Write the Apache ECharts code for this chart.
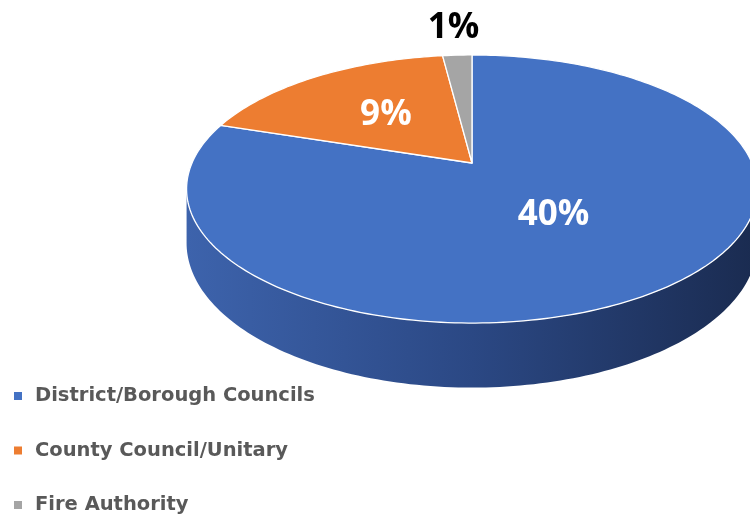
<!DOCTYPE html>
<html>
<head>
<meta charset="utf-8">
<script src="https://cdn.jsdelivr.net/npm/echarts@6/dist/echarts.min.js"></script>
<style>
  html, body { margin: 0; padding: 0; background: #fff; }
  #main { width: 750px; height: 517px; }
</style>
</head>
<body>
<div id="main"></div>
<script>
const categories = ['District/Borough Councils', 'County Council/Unitary', 'Fire Authority'];
const shares = [40, 9, 1];
const labels = ['40%', '9%', '1%'];
const colors = ['#4472C4', '#ED7D31', '#A5A5A5'];

// 3d look: tilted disk seen in perspective
const CX = 472, CY = 163, R = 280, PERSP = 0.194, TILT = 129, DEPTH = 52;
const sideStops = {
    '#4472C4': ['#3d63ac', '#2b4884', '#1a2b50'],
    '#ED7D31': ['#d06c28', '#a8561f', '#7a3d14'],
    '#A5A5A5': ['#919191', '#737373', '#525252']
};

const total = shares.reduce((a, b) => a + b, 0);

function proj(t, r, h) {
    const u = Math.sin(t) * r, v = -Math.cos(t) * r;
    const s = 1 / (1 - PERSP * v);
    return [CX + u * R * s, CY + (TILT * v + DEPTH * h) * s];
}

function startAngle(i) {
    let acc = 0;
    for (let k = 0; k < i; k++) acc += shares[k];
    return acc / total * 2 * Math.PI;
}

function arc(t0, t1, h) {
    const pts = [];
    const n = Math.max(2, Math.ceil((t1 - t0) / 0.02));
    for (let k = 0; k <= n; k++) pts.push(proj(t0 + (t1 - t0) * k / n, 1, h));
    return pts;
}

function renderSlice(params, api) {
    const i = params.seriesIndex;
    const val = api.value(0);
    const color = colors[i];
    const t0 = startAngle(i), t1 = t0 + val / total * 2 * Math.PI;
    const children = [];

    // outer wall, only the part facing us
    const sideA = Math.acos(-PERSP), sideB = 2 * Math.PI - sideA;
    const a = Math.max(t0, sideA), b = Math.min(t1, sideB);
    if (b > a) {
        const top = arc(a, b, 0), bottom = arc(a, b, 1).reverse();
        const st = sideStops[color];
        children.push({
            type: 'polygon',
            shape: { points: top.concat(bottom) },
            style: {
                fill: new echarts.graphic.LinearGradient(0, 0, 1, 0, [
                    { offset: 0, color: st[0] },
                    { offset: 0.5, color: st[1] },
                    { offset: 1, color: st[2] }
                ])
            }
        });
    }

    // top face
    children.push({
        type: 'polygon',
        shape: { points: [proj(0, 0, 0)].concat(arc(t0, t1, 0)) },
        style: { fill: color, stroke: '#ffffff', lineWidth: 1.3, lineJoin: 'round' }
    });

    // data label
    const mid = (t0 + t1) / 2;
    const frac = val / total;
    const outside = frac < 0.05;
    const r = outside ? 1.32 : (frac > 0.4 ? 0.46 : 0.52);
    const p = proj(mid, r, 0);
    children.push({
        type: 'text',
        x: p[0],
        y: p[1],
        style: {
            text: labels[i],
            fill: outside ? '#000000' : '#ffffff',
            fontSize: 35,
            fontWeight: 'bold',
            fontFamily: 'Open Sans',
            align: 'center',
            verticalAlign: 'middle'
        }
    });

    return { type: 'group', children: children };
}

const chart = echarts.init(document.getElementById('main'));
chart.setOption({
    animation: false,
    legend: {
        orient: 'vertical',
        left: 14,
        top: 386,
        padding: 0,
        height: 131,
        icon: 'rect',
        itemWidth: 8,
        itemHeight: 8,
        itemGap: 34.5,
        selectedMode: false,
        textStyle: {
            color: '#595959',
            fontSize: 19.5,
            fontWeight: 'bold',
            fontFamily: 'DejaVu Sans',
            lineHeight: 20,
            padding: [0, 0, 0, 8]
        }
    },
    series: categories.map((name, i) => ({
        type: 'custom',
        name: name,
        coordinateSystem: 'none',
        silent: true,
        itemStyle: { color: colors[i] },
        renderItem: renderSlice,
        data: [[shares[i]]]
    }))
});
</script>
</body>
</html>
